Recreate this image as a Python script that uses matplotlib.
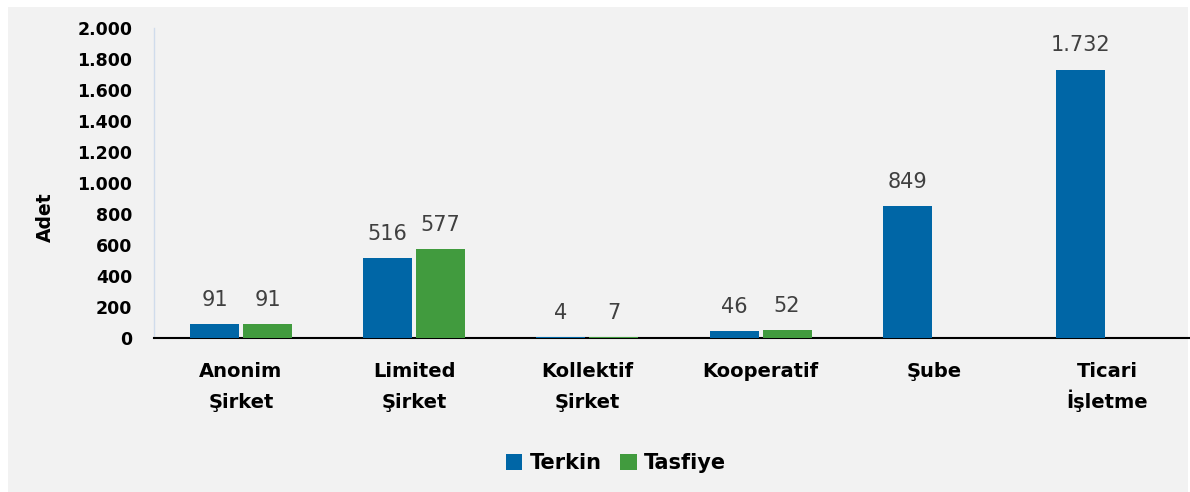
import numpy as np
import matplotlib
matplotlib.use("Agg")
import matplotlib.pyplot as plt
from matplotlib.patches import Rectangle

plt.rcParams['font.family'] = ['DejaVu Sans']

categories = ["Anonim\nŞirket", "Limited\nŞirket", "Kollektif\nŞirket",
              "Kooperatif", "Şube", "Ticari\nİşletme"]
terkin = [91, 516, 4, 46, 849, 1732]
tasfiye = [91, 577, 7, 52, None, None]
yticks = [0, 200, 400, 600, 800, 1000, 1200, 1400, 1600, 1800, 2000]

blue = "#0066A6"
green = "#419B3E"
bg = "#F2F2F2"


def tr_fmt(v):
    return f"{v:,}".replace(",", ".")


W, H = 1190, 492
fig = plt.figure(figsize=(W / 100, H / 100), dpi=100, facecolor="white")
fig.patches.append(Rectangle((8 / W, 0), (1188 - 8) / W, (H - 7) / H,
                             transform=fig.transFigure, facecolor=bg,
                             edgecolor="none", zorder=-10))

ax = fig.add_axes([154.4 / W, (H - 338) / H, (1193.6 - 154.4) / W, 310 / H])
ax.set_facecolor("none")

x = np.arange(len(categories))
bw = 49 / 173.2
off = 26.5 / 173.2

tx = x - off
ty = terkin
b1 = ax.bar(tx, ty, width=bw, color=blue, label="Terkin", zorder=3)

sx = [x[i] + off for i in range(len(tasfiye)) if tasfiye[i] is not None]
sy = [v for v in tasfiye if v is not None]
b2 = ax.bar(sx, sy, width=bw, color=green, label="Tasfiye", zorder=3)

for xs, ys in ((tx, ty), (sx, sy)):
    for xi, yi in zip(xs, ys):
        ax.annotate(tr_fmt(yi), (xi, yi), xytext=(0, 13), textcoords="offset points",
                    ha="center", va="baseline", fontsize=15, color="#404040")

ax.set_xlim(-0.5, 5.5)
ax.set_ylim(0, 2000)
ax.set_yticks(yticks)
ax.set_yticklabels([tr_fmt(v) for v in yticks], fontsize=12.5, fontweight="bold")
ax.set_xticks(x)
ax.set_xticklabels([])
ax.tick_params(axis="both", length=0)
ax.tick_params(axis="y", pad=16)

# category labels, two lines each at fixed baselines
for xi, cat in zip(x, categories):
    for k, line in enumerate(cat.split("\n")):
        ax.annotate(line, (xi, 0), xycoords=("data", "axes fraction"),
                    xytext=(0, -28 - 22.4 * k), textcoords="offset points",
                    ha="center", va="baseline", fontsize=14, fontweight="bold")

for s in ("top", "right"):
    ax.spines[s].set_visible(False)
ax.spines["left"].set_color("#D0DCEC")
ax.spines["left"].set_linewidth(1)
ax.spines["bottom"].set_color("black")
ax.spines["bottom"].set_linewidth(1.5)

fig.text(45 / W, 1 - 217 / H, "Adet", rotation=90, ha="center", va="center",
         fontsize=13.5, fontweight="bold")

fig.legend(handles=[b1, b2], loc="center", bbox_to_anchor=(616 / W, 1 - 463 / H),
           ncol=2, frameon=False, prop={"size": 15, "weight": "bold"},
           handlelength=0.8, handleheight=0.8, handletextpad=0.35, columnspacing=0.9)

fig.savefig("out.png", dpi=100, facecolor=fig.get_facecolor())
